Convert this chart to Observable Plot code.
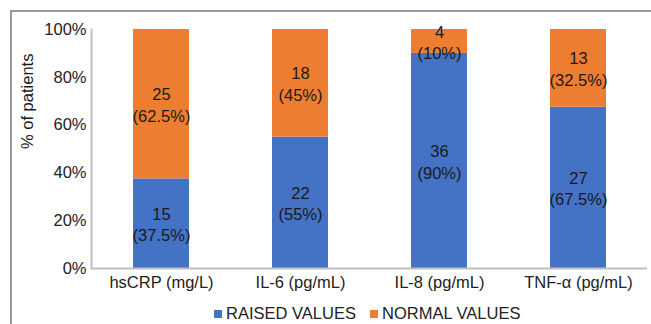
<!DOCTYPE html>
<html>
<head>
<meta charset="utf-8">
<script src="https://cdn.jsdelivr.net/npm/d3@7"></script>
<script src="https://cdn.jsdelivr.net/npm/@observablehq/plot@0.6"></script>
<style>
  html, body { margin: 0; padding: 0; background: #fff; }
  #wrap { position: relative; width: 651px; height: 324px; overflow: hidden; font-family: "Liberation Sans", Arial, sans-serif; }
  #border { position: absolute; left: 10px; top: 10px; width: 700px; height: 400px; border-left: 2px solid #999; border-top: 2px solid #999; box-sizing: border-box; }
  #chart { position: absolute; left: 0; top: 0; }
  #legend { position: absolute; left: 0; top: 302px; width: 651px; height: 22px; font-size: 16.5px; color: #222; }
  .sw { position: absolute; top: 8px; width: 8px; height: 8px; }
  .lt { position: absolute; top: 2px; white-space: nowrap; }
</style>
</head>
<body>
<div id="wrap">
  <div id="border"></div>
  <div id="chart"></div>
  <div id="legend"></div>
</div>
<script>
const categories = ["hsCRP (mg/L)", "IL-6 (pg/mL)", "IL-8 (pg/mL)", "TNF-α (pg/mL)"];
const seriesNames = ["RAISED VALUES", "NORMAL VALUES"];
const raisedCounts = [15, 22, 36, 27];
const raisedPct = [37.5, 55, 90, 67.5];
const normalCounts = [25, 18, 4, 13];
const normalPct = [62.5, 45, 10, 32.5];
const colors = ["#4472C4", "#ED7D31"];
const yTicks = [0, 20, 40, 60, 80, 100];

const rows = [];
categories.forEach((c, i) => {
  rows.push({cat: c, series: seriesNames[0], n: raisedCounts[i], pct: raisedPct[i]});
});
categories.forEach((c, i) => {
  rows.push({cat: c, series: seriesNames[1], n: normalCounts[i], pct: normalPct[i]});
});

const FS = 16.5;
const chart = Plot.plot({
  width: 651,
  height: 300,
  marginLeft: 91,
  marginRight: 4,
  marginTop: 29,
  marginBottom: 32,
  style: {fontFamily: "'Liberation Sans', Arial, sans-serif", fontSize: FS + "px", color: "#222", background: "transparent"},
  x: {domain: categories, paddingInner: 0.6, paddingOuter: 0.3, label: null},
  y: {domain: [0, 100], ticks: yTicks, label: null},
  color: {domain: seriesNames, range: colors},
  marks: [
    Plot.barY(rows, Plot.stackY({x: "cat", y: "pct", z: "series", fill: "series", order: seriesNames})),
    Plot.text(rows, Plot.stackY({x: "cat", y: "pct", z: "series", order: seriesNames,
      text: d => d.n + "\n(" + d.pct + "%)", fill: "#1a1a1a", fontSize: FS, lineHeight: 1.3})),
    Plot.ruleY([0], {stroke: "#bfbfbf", strokeWidth: 2}),
    Plot.frame({anchor: "left", stroke: "#bfbfbf", strokeWidth: 2}),
    Plot.axisY({ticks: yTicks, tickSize: 0, tickPadding: 5, tickFormat: d => d + "%", fontSize: FS, label: null}),
    Plot.axisX({tickSize: 0, tickPadding: 8, fontSize: FS, label: null}),
    Plot.text(["% of patients"], {frameAnchor: "left", dx: -64, rotate: -90, fontSize: FS, fill: "#1a1a1a"})
  ]
});
document.getElementById("chart").appendChild(chart);

const legend = document.getElementById("legend");
const legendPos = [[214, 226], [370, 382]];
seriesNames.forEach((s, i) => {
  const sw = document.createElement("div");
  sw.className = "sw";
  sw.style.left = legendPos[i][0] + "px";
  sw.style.background = colors[i];
  legend.appendChild(sw);
  const t = document.createElement("div");
  t.className = "lt";
  t.style.left = legendPos[i][1] + "px";
  t.textContent = s;
  legend.appendChild(t);
});
</script>
</body>
</html>
